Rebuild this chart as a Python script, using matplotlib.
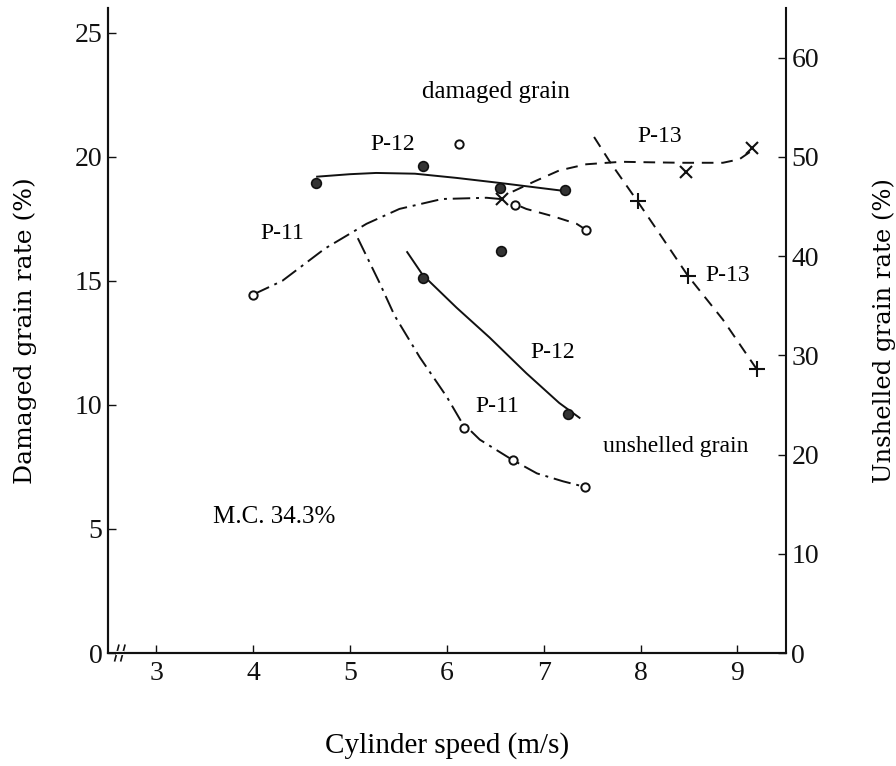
import matplotlib
matplotlib.use("Agg")
import matplotlib.pyplot as plt

plt.rcParams['font.family'] = ['Liberation Serif', 'DejaVu Serif']
plt.rcParams['mathtext.default'] = 'regular'

# x ticks / y ticks
x_ticks = [3, 4, 5, 6, 7, 8, 9]
left_ticks = [0, 5, 10, 15, 20, 25]
right_ticks = [0, 10, 20, 30, 40, 50, 60]

# damaged grain (left axis), measured points
dmg_p11_x = [4.0, 6.7, 7.44]
dmg_p11_y = [14.45, 18.05, 17.05]
dmg_p11_out_x = [6.13]
dmg_p11_out_y = [20.5]
dmg_p12_x = [4.65, 5.75, 6.55, 7.22]
dmg_p12_y = [18.95, 19.65, 18.75, 18.65]
dmg_p13_x = [6.57, 8.47, 9.15]
dmg_p13_y = [18.3, 19.4, 20.35]

# damaged grain, hand drawn curves
dmg_p11_curve_x = [4.0, 4.3, 4.74, 5.17, 5.51, 5.95, 6.41, 6.55]
dmg_p11_curve_y = [14.45, 15.0, 16.3, 17.3, 17.9, 18.3, 18.35, 18.3]
dmg_p11_tail_x = [6.76, 6.82, 7.1, 7.34, 7.42]
dmg_p11_tail_y = [18.0, 17.9, 17.6, 17.3, 17.1]
dmg_p12_curve_x = [4.66, 5.0, 5.27, 5.67, 6.1, 6.54, 7.16, 7.22]
dmg_p12_curve_y = [19.2, 19.3, 19.35, 19.32, 19.15, 18.95, 18.65, 18.62]
dmg_p13_curve_x = [6.68, 6.9, 7.16, 7.44, 7.8, 8.09, 8.43, 8.85, 9.02, 9.15]
dmg_p13_curve_y = [18.6, 19.0, 19.45, 19.7, 19.8, 19.78, 19.76, 19.76, 19.9, 20.25]

# unshelled grain (right axis), measured points
uns_p11_x = [6.18, 6.68, 7.43]
uns_p11_y = [22.7, 19.4, 16.7]
uns_p12_x = [5.75, 7.25]
uns_p12_y = [37.8, 24.1]
uns_p12_out_x = [6.56]
uns_p12_out_y = [40.5]
uns_p13_x = [7.97, 8.49, 9.2]
uns_p13_y = [45.5, 38.0, 28.6]

# unshelled grain, hand drawn curves
uns_p11_curve_x = [5.08, 5.30, 5.46, 5.72, 6.0, 6.15, 6.34, 6.67, 6.93, 7.2, 7.4]
uns_p11_curve_y = [41.8, 37.4, 34.0, 29.8, 25.8, 23.3, 21.5, 19.5, 18.1, 17.3, 16.8]
uns_p12_curve_x = [5.59, 5.75, 6.10, 6.44, 6.82, 7.16, 7.37]
uns_p12_curve_y = [40.4, 38.1, 34.8, 31.8, 28.2, 25.2, 23.7]
uns_p13_curve_x = [7.52, 7.69, 7.97, 8.2, 8.49, 8.85, 9.2]
uns_p13_curve_y = [52.0, 49.4, 45.5, 42.2, 38.0, 33.6, 28.6]

ink = '#111111'
dashdot = (0, (9, 3, 1.5, 3))
dashed = (0, (6, 4))

fig = plt.figure(figsize=(8.96, 7.66), dpi=100)
ax = fig.add_axes([0.1205, 0.1475, 0.7565, 0.8421])
ax2 = ax.twinx()

ax.set_xlim(2.5, 9.5)
ax.set_ylim(0, 26)
ax2.set_ylim(0, 65)

# damaged grain
ax.plot(dmg_p11_curve_x, dmg_p11_curve_y, color=ink, lw=1.4, ls=dashdot)
ax.plot(dmg_p11_tail_x, dmg_p11_tail_y, color=ink, lw=1.4, ls=dashed)
ax.plot(dmg_p12_curve_x, dmg_p12_curve_y, color=ink, lw=1.4, ls='-')
ax.plot(dmg_p13_curve_x, dmg_p13_curve_y, color=ink, lw=1.4, ls=dashed)
ax.plot(dmg_p11_x + dmg_p11_out_x, dmg_p11_y + dmg_p11_out_y, 'o', ms=6,
        mfc='white', mec=ink, mew=1.4)
ax.plot(dmg_p12_x, dmg_p12_y, 'o', ms=7, mfc='#333333', mec=ink, mew=1.2)
ax.plot(dmg_p13_x, dmg_p13_y, 'x', ms=8, mec=ink, mew=1.5)

# unshelled grain
ax2.plot(uns_p11_curve_x, uns_p11_curve_y, color=ink, lw=1.4, ls=dashdot)
ax2.plot(uns_p12_curve_x, uns_p12_curve_y, color=ink, lw=1.4, ls='-')
ax2.plot(uns_p13_curve_x, uns_p13_curve_y, color=ink, lw=1.4, ls=dashed)
ax2.plot(uns_p11_x, uns_p11_y, 'o', ms=6, mfc='white', mec=ink, mew=1.4)
ax2.plot(uns_p12_x + uns_p12_out_x, uns_p12_y + uns_p12_out_y, 'o', ms=7,
         mfc='#333333', mec=ink, mew=1.2)
ax2.plot(uns_p13_x, uns_p13_y, '+', ms=11, mec=ink, mew=1.5)

# annotations
fs = 17
ax.text(5.44, 20.5, 'P-12', fontsize=fs, ha='center', va='center')
ax.text(4.3, 16.9, 'P-11', fontsize=fs, ha='center', va='center')
ax.text(6.51, 22.6, 'damaged grain', fontsize=18, ha='center', va='center')
ax.text(8.2, 20.8, 'P-13', fontsize=fs, ha='center', va='center')
ax2.text(8.9, 38.0, 'P-13', fontsize=fs, ha='center', va='center')
ax2.text(7.09, 30.3, 'P-12', fontsize=fs, ha='center', va='center')
ax2.text(6.52, 24.8, 'P-11', fontsize=fs, ha='center', va='center')
ax2.text(8.36, 20.8, 'unshelled grain', fontsize=17, ha='center', va='center')
ax.text(4.22, 5.5, 'M.C. 34.3%', fontsize=18, ha='center', va='center')

# axes styling
for a in (ax, ax2):
    a.spines['top'].set_visible(False)
    for s in a.spines.values():
        s.set_linewidth(1.5)
        s.set_color(ink)
ax.spines['right'].set_visible(False)

ax.set_xticks(x_ticks)
ax.set_xticklabels([str(v) for v in x_ticks])
ax.set_yticks(left_ticks)
ax.set_yticklabels([str(v) for v in left_ticks])
ax2.set_yticks(right_ticks)
ax2.set_yticklabels([str(v) for v in right_ticks])
ax.tick_params(axis='both', direction='in', length=6, width=1.0,
               labelsize=20, colors=ink, pad=6)
ax.tick_params(axis='y', pad=4)
ax2.tick_params(axis='y', direction='in', length=6, width=1.0,
                labelsize=20, colors=ink, pad=4)

ax.set_xlabel('Cylinder speed (m/s)', fontsize=21)
ax.set_ylabel('Damaged grain rate (%)', fontsize=18, family='DejaVu Serif')
ax2.set_ylabel('Unshelled grain rate (%)', fontsize=17.5, family='DejaVu Serif')
ax.xaxis.set_label_coords(0.5, -0.122)
ax.yaxis.set_label_coords(-0.105, 0.5)
ax2.yaxis.set_label_coords(1.128, 0.5)

# axis break mark on the x axis
for bx in (0.013, 0.022):
    ax.plot([bx - 0.003, bx + 0.003], [-0.012, 0.012], color=ink, lw=1.2,
            transform=ax.transAxes, clip_on=False)
ax.plot([0.015, 0.020], [0, 0], color='white', lw=3,
        transform=ax.transAxes, clip_on=False)

fig.savefig('out.png', dpi=100, facecolor='white')
